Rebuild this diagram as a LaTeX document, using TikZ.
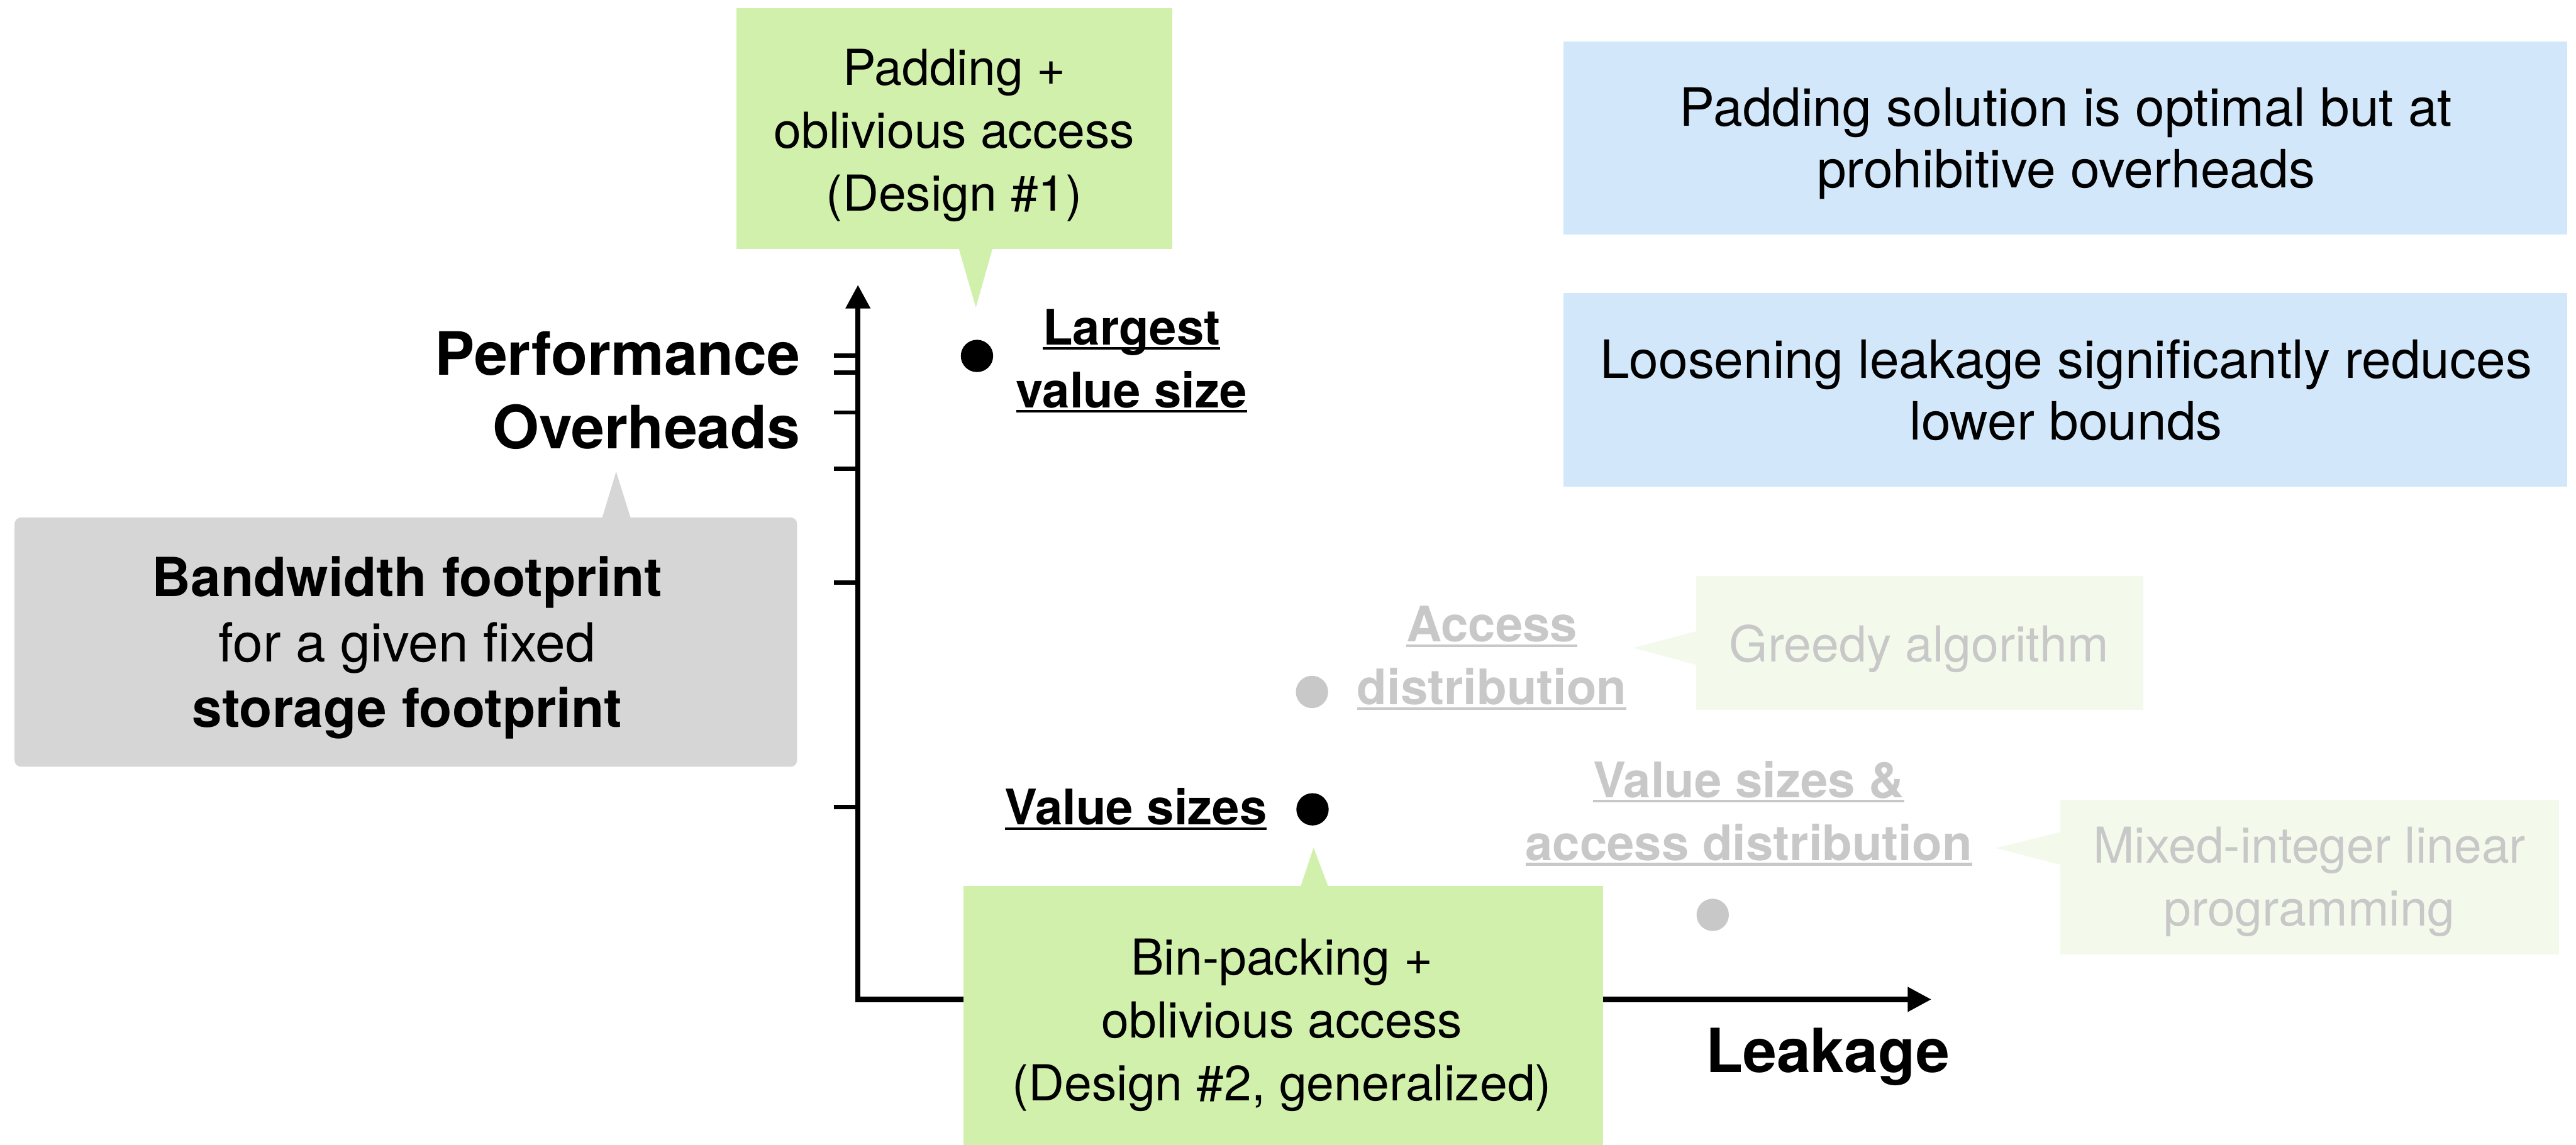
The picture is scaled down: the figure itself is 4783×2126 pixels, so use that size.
\documentclass[tikz,border=0pt]{standalone}
\usepackage{fontspec}
\setmainfont{TeX Gyre Heros}
\usetikzlibrary{arrows.meta}

\definecolor{calloutgreen}{HTML}{D1F0AB}
\definecolor{noteblue}{HTML}{D2E8FA}
\definecolor{boxgray}{HTML}{D6D6D6}
\definecolor{fadegreen}{HTML}{F3FAEC}
\definecolor{fadetext}{HTML}{C8C8C8}

% underline drawn at a fixed depth below the baseline
\newcommand\ulbl[1]{\setbox0=\hbox{#1}\rlap{\rule[-0.95pt]{\wd0}{0.5pt}}\box0}
% stacked lines whose baseline is the first line
\newcommand\stacklines[2][c]{\begin{tabular}[t]{@{}#1@{}}#2\end{tabular}}

\begin{document}
\begin{tikzpicture}[x=0.1pt, y=-0.1pt,
  panel/.style={fill=#1, draw=none, inner sep=0pt},
  txt/.style={inner sep=0pt, anchor=base, align=center},
  regular/.style={txt, font=\fontsize{9.2}{11.7}\selectfont},
  notetext/.style={txt, font=\fontsize{9.8}{11.5}\selectfont},
  lbl/.style={txt, font=\bfseries\fontsize{9.1}{11.7}\selectfont},
  axistitle/.style={inner sep=0pt, font=\bfseries\fontsize{11.1}{13.6}\selectfont},
  dot/.style={circle, fill=#1, inner sep=0pt, minimum size=6pt},
  axis/.style={line width=1pt, {Triangle[length=4.4pt,width=4.4pt]}-{Triangle[length=4.4pt,width=4.4pt]}},
  tickmark/.style={line width=0.8pt},
]
\useasboundingbox (0,0) rectangle (4783,2126);

% axes
\coordinate (origin) at (1593,1856);
\coordinate (ytop) at (1593,529);
\coordinate (xend) at (3586,1856);
\draw[axis] (ytop) -- (origin) -- (xend);
\foreach \ty in {660,692,766,871,1082,1499}
  \draw[tickmark] (1548,\ty) -- (1593,\ty);

\node[axistitle, anchor=base east] (ytitle) at (1488,697)
  {\stacklines[r]{Performance\\Overheads}};
\node[axistitle, anchor=base west, font=\bfseries\fontsize{11.3}{13.6}\selectfont] (xtitle) at (3165,1991) {Leakage};

% design 1 callout (top)
\node[panel=calloutgreen, minimum width=81pt, minimum height=44.7pt] (design1) at (1772,238.5) {};
\coordinate (tip1) at (1812,571);
\fill[calloutgreen] (1780,461) -- (tip1) -- (1843,461) -- cycle;
\node[regular] (design1txt) at (1772,158)
  {\stacklines{Padding +\\oblivious access\\(Design \#1)}};

% summary notes (right)
\node[panel=noteblue, minimum width=186.4pt, minimum height=35.9pt] (note1) at (3835,256.5) {};
\node[notetext] (note1txt) at (3836,234)
  {\stacklines{Padding solution is optimal but at\\prohibitive overheads}};
\node[panel=noteblue, minimum width=186.4pt, minimum height=36pt] (note2) at (3835,724) {};
\node[notetext] (note2txt) at (3836,702)
  {\stacklines{Loosening leakage significantly reduces\\lower bounds}};

% metric callout (left)
\node[panel=boxgray, rounded corners=1.2pt, minimum width=145.3pt, minimum height=46.3pt] (metric) at (753.5,1192.5) {};
\coordinate (tipm) at (1144,876);
\fill[boxgray] (1118,962) -- (tipm) -- (1171,962) -- cycle;
\node[txt, font=\fontsize{10}{12.2}\selectfont] (metrictxt) at (756,1107)
  {\stacklines{\textbf{Bandwidth footprint}\\for a given fixed\\\textbf{storage footprint}}};

% design points
\node[dot=black] (plargest) at (1814,661) {};
\node[lbl] (llargest) at (2101,640) {\stacklines{\ulbl{Largest}\\\ulbl{value size}}};

\node[dot=black] (pvalue) at (2437,1503) {};
\node[lbl] (lvalue) at (2109,1532) {\ulbl{Value sizes}};

\node[dot=fadetext] (paccess) at (2436,1285) {};
\node[lbl, text=fadetext] (laccess) at (2770,1192) {\stacklines{\ulbl{Access}\\\ulbl{distribution}}};

\node[dot=fadetext] (pboth) at (3180,1699) {};
\node[lbl, text=fadetext] (lboth) at (3247,1481) {\stacklines{\ulbl{Value sizes \&}\\\ulbl{access distribution}}};

% faded algorithm callouts
\node[panel=fadegreen, minimum width=83pt, minimum height=24.8pt] (greedy) at (3564,1194) {};
\coordinate (tipg) at (3033,1203);
\fill[fadegreen] (3150,1172) -- (tipg) -- (3150,1235) -- cycle;
\node[regular, text=fadetext] (greedytxt) at (3563,1229) {Greedy algorithm};

\node[panel=fadegreen, minimum width=92.6pt, minimum height=28.7pt] (milp) at (4288,1628.5) {};
\coordinate (tipl) at (3705,1575);
\fill[fadegreen] (3826,1545) -- (tipl) -- (3826,1606) -- cycle;
\node[regular, text=fadetext] (milptxt) at (4288,1603)
  {\stacklines{Mixed-integer linear\\programming}};

% design 2 callout (bottom)
\node[panel=calloutgreen, minimum width=118.7pt, minimum height=51.5pt] (design2) at (2382.5,1902.5) {};
\coordinate (tip2) at (2439,1574);
\fill[calloutgreen] (2415,1646) -- (tip2) -- (2466,1646) -- cycle;
\node[regular] (design2txt) at (2380,1810)
  {\stacklines{Bin-packing +\\oblivious access\\(Design \#2, generalized)}};
\end{tikzpicture}
\end{document}
